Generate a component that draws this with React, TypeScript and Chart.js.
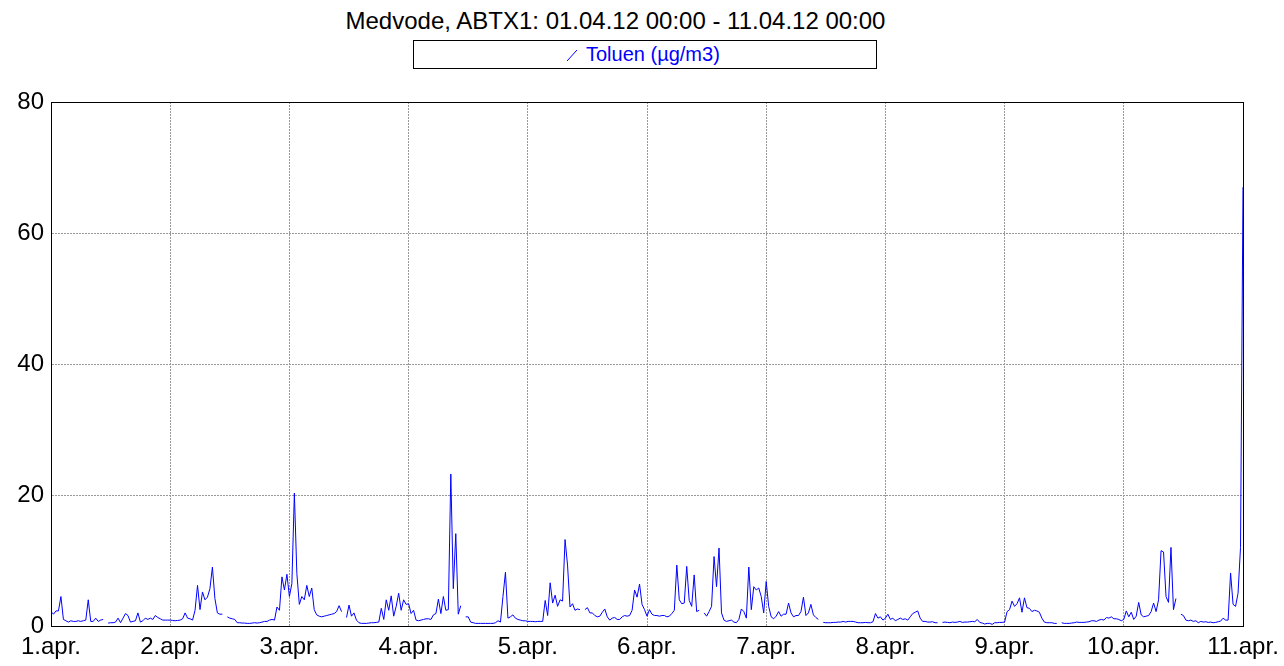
import React, { useEffect, useRef } from "react";
import { Chart, registerables } from "chart.js";

Chart.register(...registerables);

const titleText = "Medvode, ABTX1: 01.04.12 00:00 - 11.04.12 00:00";
const seriesName = "Toluen (µg/m3)";
const xTickLabels = ["1.apr.", "2.apr.", "3.apr.", "4.apr.", "5.apr.", "6.apr.", "7.apr.", "8.apr.", "9.apr.", "10.apr.", "11.apr."];
const yTickValues = [0, 20, 40, 60, 80];
const pointsPerDay = 48; // half-hourly values

const day1 = [2.2, 1.8, 2.3, 2.3, 4.5, 1.0, 0.8, 0.6, 0.8, 0.7, 0.7, 0.8, 0.7, 0.8, 0.9, 4.0, 0.7, 0.7, 1.2, 0.7, 0.9, 1.0, null, 0.45, 0.5, 0.5, 0.6, 1.2, 0.5, 1.2, 1.9, 1.6, 0.6, 0.7, 0.8, 2.0, 0.6, 0.8, 1.2, 1.0, 1.2, 1.0, 1.6, 1.3, 1.1, 0.9, 0.9, 0.9];
const day2 = [0.9, 0.85, 0.8, 0.85, 0.9, 1.1, 2.0, 1.2, 1.1, 0.9, 2.4, 6.2, 2.5, 5.2, 4.0, 4.4, 5.7, 9.0, 4.2, 2.0, 1.8, 1.8, null, 1.4, 1.2, 1.1, 1.0, 0.5, 0.5, 0.45, 0.45, 0.4, 0.4, 0.45, 0.5, 0.45, 0.5, 0.6, 0.7, 0.7, 0.9, 1.0, 0.9, 2.9, 2.4, 7.5, 5.5, 7.9];
const day3 = [4.5, 6.5, 20.3, 8.0, 3.3, 4.5, 4.0, 6.2, 4.5, 5.8, 2.5, 1.7, 1.5, 1.4, 1.5, 1.6, 1.7, 1.8, 1.9, 2.2, 3.1, 2.2, null, 1.3, 3.2, 1.5, 2.0, 0.9, 0.5, 0.4, 0.4, 0.4, 0.45, 0.5, 0.5, 0.55, 0.6, 2.7, 1.0, 4.0, 2.4, 4.6, 1.5, 3.0, 5.0, 2.4, 4.0, 3.3];
const day4 = [3.4, 1.9, 2.4, 0.9, 0.8, 0.9, 1.0, 1.1, 1.1, 1.0, 1.7, 1.9, 4.1, 1.9, 4.5, 2.4, 2.5, 23.2, 5.7, 14.1, 1.8, 3.1, null, 1.4, 1.4, 0.6, 0.5, 0.4, 0.4, 0.4, 0.4, 0.4, 0.4, 0.4, 0.4, 0.5, 0.8, 0.6, 4.5, 8.2, 1.2, 1.4, 1.7, 1.2, 1.0, 0.9, 0.8, 0.8];
const day5 = [0.7, 0.7, 0.7, 0.65, 0.7, 0.7, 0.7, 3.9, 1.6, 6.6, 3.5, 4.7, 3.0, 4.0, 3.8, 13.2, 9.3, 2.9, 3.4, 2.4, 2.6, 2.5, null, 2.5, 2.8, 2.0, 2.0, 1.6, 1.4, 1.5, 2.1, 2.6, 1.4, 0.9, 1.2, 1.3, 1.0, 1.0, 1.4, 1.6, 1.5, 1.6, 2.4, 5.5, 4.4, 6.4, 3.3, 2.5];
const day6 = [1.5, 2.5, 1.8, 1.6, 1.6, 1.5, 1.6, 1.6, 1.4, 1.5, 1.9, 2.4, 9.3, 4.0, 3.4, 3.5, 9.1, 3.9, 3.0, 7.8, 2.2, 2.4, null, 2.0, 1.5, 2.2, 3.0, 10.6, 6.0, 11.9, 2.0, 0.9, 0.7, 0.8, 0.9, 0.6, 0.5, 1.0, 2.6, 2.2, 1.2, 9.0, 2.5, 6.0, 5.5, 5.8, 4.5, 2.0];
const day7 = [6.8, 3.0, 1.4, 1.1, 1.5, 2.2, 1.5, 1.8, 1.8, 3.5, 2.0, 1.4, 1.6, 1.6, 2.2, 4.4, 1.6, 2.0, 3.3, 1.7, 1.3, 1.0, null, 0.55, 0.5, 0.5, 0.5, 0.55, 0.55, 0.6, 0.6, 0.7, 0.6, 0.7, 0.7, 0.7, 0.6, 0.5, 0.5, 0.5, 0.55, 0.5, 0.5, 0.65, 1.9, 1.2, 1.4, 0.9];
const day8 = [1.2, 1.8, 1.0, 1.2, 0.8, 1.0, 1.2, 1.0, 1.1, 0.9, 1.4, 1.9, 2.1, 2.3, 1.2, 0.7, 0.7, 0.6, 0.6, 0.65, 0.5, 0.5, null, 0.55, 0.6, 0.55, 0.5, 0.6, 0.55, 0.6, 0.7, 0.55, 0.6, 0.6, 0.65, 0.7, 0.65, 1.0, 0.55, 0.45, 0.3, 0.4, 0.4, 0.25, 0.5, 0.5, 0.55, 0.55];
const day9 = [0.6, 2.2, 2.5, 3.8, 3.0, 3.4, 4.3, 2.1, 4.3, 2.8, 2.7, 2.2, 2.4, 2.3, 2.1, 1.2, 0.6, 0.5, 0.5, 0.5, 0.4, 0.4, null, 0.5, 0.4, 0.4, 0.4, 0.45, 0.5, 0.6, 0.55, 0.55, 0.55, 0.6, 0.65, 0.8, 0.8, 0.7, 0.9, 1.0, 0.9, 1.3, 1.2, 1.4, 1.1, 1.1, 1.0, 0.8];
const day10 = [1.0, 2.3, 1.4, 2.1, 1.0, 1.5, 3.6, 1.7, 1.4, 1.5, 1.6, 2.2, 3.5, 2.2, 4.0, 11.5, 11.3, 4.5, 3.6, 12.0, 2.5, 4.2, null, 1.8, 1.6, 0.9, 0.8, 0.9, 0.7, 0.8, 0.5, 0.7, 0.6, 0.65, 0.55, 0.6, 0.5, 0.55, 0.65, 0.75, 1.2, 0.9, 0.9, 8.1, 3.3, 3.0, 5.0, 12.0];
const lastValue = [67];

const FONT = "'Liberation Sans', Arial, Helvetica, sans-serif";

export default function App() {
  const canvasRef = useRef<HTMLCanvasElement>(null);

  useEffect(() => {
    const canvas = canvasRef.current;
    if (!canvas) return;
    const values = [...day1, ...day2, ...day3, ...day4, ...day5, ...day6, ...day7, ...day8, ...day9, ...day10, ...lastValue];
    const points = values.map((v, i) => ({ x: i / pointsPerDay, y: v }));

    const framePlugin = {
      id: "frame",
      beforeDatasetsDraw(chart: any) {
        const { ctx, chartArea: a } = chart;
        ctx.save();
        ctx.strokeStyle = "#000";
        ctx.lineWidth = 1;
        ctx.strokeRect(Math.round(a.left) + 0.5, Math.round(a.top) + 0.5, Math.round(a.right - a.left), Math.round(a.bottom - a.top));
        ctx.restore();
      },
    };

    const chart = new Chart(canvas, {
      type: "line",
      data: {
        datasets: [
          {
            label: seriesName,
            data: points as any,
            borderColor: "#0000ff",
            borderWidth: 1,
            pointRadius: 0,
            tension: 0,
            spanGaps: false,
            fill: false,
          },
        ],
      },
      options: {
        responsive: false,
        animation: false,
        events: [],
        layout: { padding: { top: 102, right: 41, left: 0, bottom: 0 } },
        plugins: {
          legend: { display: false },
          title: { display: false },
          tooltip: { enabled: false },
        },
        scales: {
          x: {
            type: "linear",
            min: 0,
            max: 10,
            afterFit: (s: any) => {
              s.height = 40;
              s.paddingLeft = 0;
              s.paddingRight = 0;
            },
            afterBuildTicks: (s: any) => {
              s.ticks = xTickLabels.map((_, i) => ({ value: i }));
            },
            ticks: {
              autoSkip: false,
              maxRotation: 0,
              padding: 7,
              color: "#000",
              font: { family: FONT, size: 24 },
              callback: (v: any) => xTickLabels[Math.round(Number(v))],
            },
            grid: { color: "#999999", lineWidth: 1, drawTicks: false },
            border: { display: true, color: "#000", width: 1, dash: [2, 1] },
          },
          y: {
            type: "linear",
            min: 0,
            max: 80,
            afterFit: (s: any) => {
              s.width = 51;
              s.paddingTop = 0;
              s.paddingBottom = 0;
            },
            afterBuildTicks: (s: any) => {
              s.ticks = yTickValues.map((v) => ({ value: v }));
            },
            ticks: {
              padding: 7,
              color: "#000",
              font: { family: FONT, size: 24 },
            },
            grid: { color: "#999999", lineWidth: 1, drawTicks: false },
            border: { display: true, color: "#000", width: 1, dash: [2, 1] },
          },
        },
      },
      plugins: [framePlugin],
    });
    return () => chart.destroy();
  }, []);

  return (
    <div style={{ position: "absolute", left: 0, top: 0, width: 1284, height: 666, background: "#fff", fontFamily: FONT }}>
      <div style={{ position: "absolute", left: 0, top: 7, width: 1231, textAlign: "center", fontSize: 24, lineHeight: "28px", color: "#000", whiteSpace: "nowrap" }}>
        {titleText}
      </div>
      <div style={{ position: "absolute", left: 413, top: 40, width: 464, height: 29, boxSizing: "border-box", border: "1px solid #000", background: "#fff" }} />
      <svg style={{ position: "absolute", left: 566, top: 49 }} width={12} height={13}>
        <line x1={1} y1={12} x2={11} y2={1} stroke="#0000ff" strokeWidth={1} />
      </svg>
      <div style={{ position: "absolute", left: 586, top: 41, fontSize: 20, lineHeight: "27px", color: "#0000ff", whiteSpace: "nowrap" }}>
        {seriesName}
      </div>
      <canvas ref={canvasRef} width={1284} height={666} style={{ position: "absolute", left: 0, top: 0, width: 1284, height: 666 }} />
    </div>
  );
}
